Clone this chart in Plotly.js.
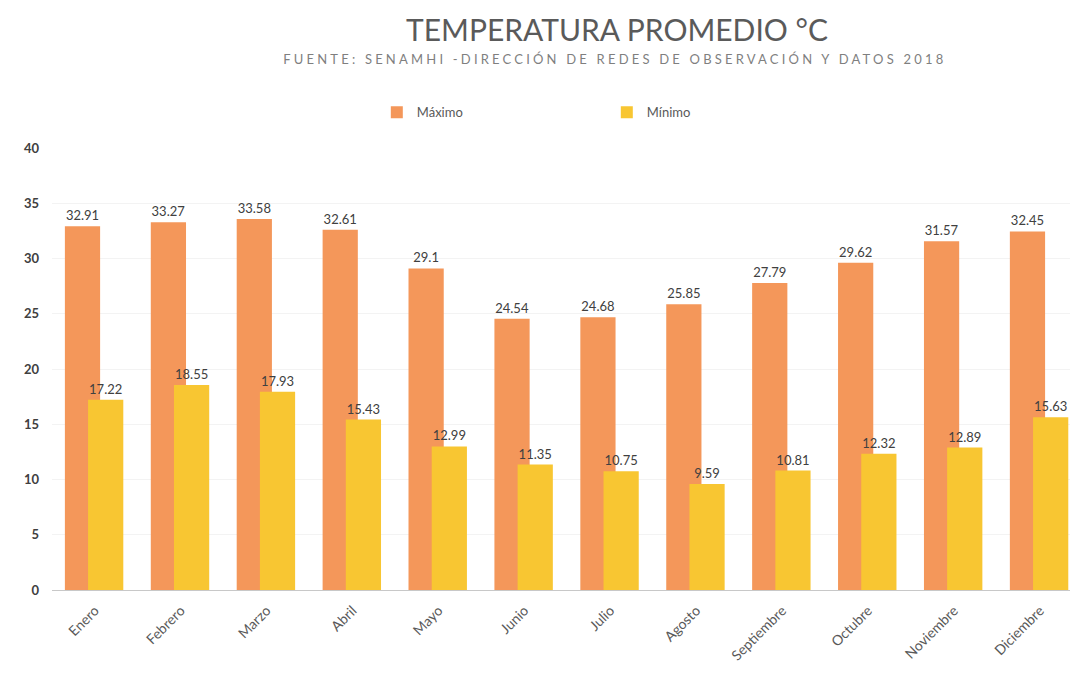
<!DOCTYPE html>
<html>
<head>
<meta charset="utf-8">
<script src="https://cdn.plot.ly/plotly-3.0.1.min.js"></script>
<style>
html,body{margin:0;padding:0;background:#fff;}
#chart{width:1070px;height:680px;}
g.annotation[data-index="1"] text{letter-spacing:3.2px;}
</style>
</head>
<body>
<div id="chart"></div>
<script>
const months = ["Enero","Febrero","Marzo","Abril","Mayo","Junio","Julio","Agosto","Septiembre","Octubre","Noviembre","Diciembre"];
const maximo = [32.91,33.27,33.58,32.61,29.1,24.54,24.68,25.85,27.79,29.62,31.57,32.45];
const minimo = [17.22,18.55,17.93,15.43,12.99,11.35,10.75,9.59,10.81,12.32,12.89,15.63];
const yTicks = [0,5,10,15,20,25,30,35,40];

const fnt = "Lato, 'Open Sans', sans-serif";

const traces = [
  {
    type: "bar", name: "Máximo", x: months, y: maximo,
    width: 0.41, offset: -0.35,
    marker: {color: "#F4975A"},
    text: maximo.map(String), textposition: "outside",
    textfont: {family: fnt, size: 13, color: "#404040"},
    cliponaxis: false, hoverinfo: "x+y"
  },
  {
    type: "bar", name: "Mínimo", x: months, y: minimo,
    width: 0.41, offset: -0.08,
    marker: {color: "#F8C632"},
    text: minimo.map(String), textposition: "outside",
    textfont: {family: fnt, size: 13, color: "#404040"},
    cliponaxis: false, hoverinfo: "x+y"
  }
];

const layout = {
  width: 1070, height: 680,
  margin: {l: 52, r: 0, t: 148, b: 90},
  barmode: "overlay",
  paper_bgcolor: "#fff", plot_bgcolor: "#fff",
  font: {family: fnt, color: "#595959"},
  showlegend: true,
  legend: {
    orientation: "h", x: 0.545, xanchor: "center", y: 1.081, yanchor: "middle",
    font: {family: fnt, size: 13, color: "#595959"},
    entrywidth: 185, entrywidthmode: "pixels", itemwidth: 30
  },
  xaxis: {
    type: "category", range: [-0.5, 11.35],
    tickangle: -45, tickfont: {family: fnt, size: 14, color: "#595959"},
    showline: true, linecolor: "#c8c8c8", linewidth: 1,
    showgrid: false, ticks: "", ticklabelstandoff: 6, fixedrange: true
  },
  yaxis: {
    range: [0, 40], tickvals: yTicks, ticktext: yTicks.map(String),
    tickfont: {family: fnt, size: 13, color: "#404040", weight: "bold"},
    showgrid: true, gridcolor: "#f3f3f3", zeroline: false,
    ticklabelstandoff: 12, fixedrange: true
  },
  annotations: [
    {
      text: "TEMPERATURA PROMEDIO °C", xref: "paper", yref: "paper",
      x: 0.555, y: 1.0, yshift: 119, xanchor: "center", yanchor: "middle",
      showarrow: false, font: {family: fnt, size: 30, color: "#5a5a5a"}
    },
    {
      text: "FUENTE: SENAMHI -DIRECCIÓN DE REDES DE OBSERVACIÓN Y DATOS 2018", xref: "paper", yref: "paper",
      x: 0.553, y: 1.0, yshift: 89, xanchor: "center", yanchor: "middle",
      showarrow: false, font: {family: fnt, size: 13, color: "#7f7f7f"}
    }
  ]
};

Plotly.newPlot("chart", traces, layout, {displayModeBar: false, staticPlot: true});
</script>
</body>
</html>
